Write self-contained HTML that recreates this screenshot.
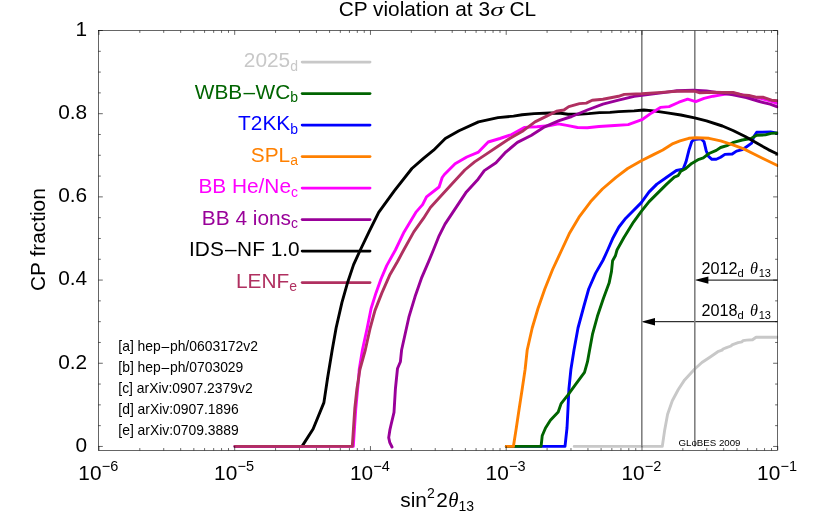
<!DOCTYPE html>
<html><head><meta charset="utf-8"><title>CP violation at 3 sigma CL</title><style>
html,body{margin:0;padding:0;background:#fff;}
svg{display:block;font-family:"Liberation Sans",sans-serif;}
svg{will-change:transform;}
</style></head><body>
<svg width="830" height="513" viewBox="0 0 830 513">
<rect width="830" height="513" fill="#fff"/>
<path d="M302.2 62.1H370" stroke="#c8c8c8" stroke-width="2.9" stroke-linecap="round" fill="none"/>
<path d="M302.2 93.6H370" stroke="#006400" stroke-width="2.9" stroke-linecap="round" fill="none"/>
<path d="M302.2 125.1H370" stroke="#0000ff" stroke-width="2.9" stroke-linecap="round" fill="none"/>
<path d="M302.2 156.6H370" stroke="#ff8000" stroke-width="2.9" stroke-linecap="round" fill="none"/>
<path d="M302.2 188.1H370" stroke="#ff00ff" stroke-width="2.9" stroke-linecap="round" fill="none"/>
<path d="M302.2 219.6H370" stroke="#990099" stroke-width="2.9" stroke-linecap="round" fill="none"/>
<path d="M302.2 251.1H370" stroke="#000000" stroke-width="2.9" stroke-linecap="round" fill="none"/>
<path d="M302.2 282.6H370" stroke="#b03060" stroke-width="2.9" stroke-linecap="round" fill="none"/>
<path d="M777.4 280.1H700.6" stroke="#000" stroke-width="1" fill="none"/>
<path d="M694.6 280.1l13.8 -3.7v7.4z" fill="#000"/>
<path d="M777.4 321.7H647.2" stroke="#000" stroke-width="1" fill="none"/>
<path d="M641.2 321.7l13.8 -3.7v7.4z" fill="#000"/>
<clipPath id="cp"><rect x="98.95" y="30.5" width="679.17" height="419.95"/></clipPath>
<g clip-path="url(#cp)">
<g fill="none" stroke-width="2.9" stroke-linejoin="round" stroke-linecap="round">
<path d="M574.2 446.4L662.3 446.4L664.6 430.6L667.6 414.2L672.3 400.8L678.3 389.5L684.6 379.9L694.7 369.0L701.9 362.5L710.6 356.7L717.8 351.7L722.0 350.2L723.0 349.0L726.5 347.6L731.0 346.0L732.0 344.9L738.1 342.6L742.0 341.8L743.0 340.6L746.7 340.1L752.5 339.8L756.1 337.2L777.4 337.2" stroke="#c8c8c8"/>
</g>
<path d="M641.8 30.5V446.4M694.8 30.5V446.4" stroke="#808080" stroke-width="1.6" fill="none"/>
<g fill="none" stroke-width="2.9" stroke-linejoin="round" stroke-linecap="round">
<path d="M506.3 446.4L565.0 446.4L567.0 428.0L568.0 408.5L568.9 389.0L570.9 369.5L574.0 350.0L578.0 328.0L583.8 306.5L588.7 289.0L595.5 273.4L603.3 259.7L607.7 250.0L613.1 237.7L618.9 227.0L625.8 218.2L633.5 210.4L641.3 202.6L649.1 191.9L656.9 184.1L666.7 177.3L676.4 170.5L683.2 169.1L686.0 161.8L688.9 150.3L691.7 141.7L693.9 139.5L701.1 138.8L704.0 141.7L706.1 150.4L708.3 156.1L711.9 159.3L716.3 159.3L720.6 157.3L724.9 154.4L732.2 154.0L736.5 151.1L742.3 149.6L746.6 146.7L751.7 143.1L753.9 136.6L756.7 132.3L770.5 131.9L774.5 132.6L777.4 133.4" stroke="#0000ff"/>
<path d="M506.3 446.4L541.1 446.4L542.2 435.8L545.5 428.0L550.4 420.2L558.2 412.0L561.1 403.6L568.0 394.8L575.8 384.1L584.5 372.4L587.5 361.7L589.6 350.0L592.6 333.8L597.4 316.3L603.3 298.7L609.1 283.1L611.5 271.4L612.6 260.7L615.4 255.8L617.0 250.0L623.8 237.7L633.5 222.1L641.3 211.4L649.1 201.6L658.9 191.9L666.7 184.1L674.3 177.1L678.0 175.7L680.8 171.3L685.9 168.4L691.7 163.4L698.9 159.3L703.3 157.9L709.0 153.5L716.3 150.4L720.6 147.5L727.8 145.3L733.6 142.4L742.3 140.0L751.0 138.5L756.7 135.2L765.4 134.9L771.2 133.4L777.4 133.0" stroke="#006400"/>
<path d="M506.3 446.4L513.4 446.4L516.3 428.0L519.2 408.5L522.2 389.0L525.1 369.5L527.2 350.0L532.2 328.0L538.0 308.5L544.8 289.0L552.6 269.5L561.7 250.0L569.2 233.8L579.0 217.2L590.7 201.6L602.4 189.0L616.0 177.3L627.7 168.5L641.3 160.7L653.0 154.9L662.8 150.0L673.0 143.6L680.0 140.9L688.8 138.3L696.0 137.8L709.0 138.3L720.6 140.8L732.2 144.6L743.7 148.9L753.9 154.0L764.0 159.0L777.4 165.5" stroke="#ff8000"/>
<path d="M235.0 446.4L302.0 446.4L313.1 429.0L323.9 402.6L327.7 377.3L332.2 350.0L336.1 328.0L341.9 302.6L347.7 282.2L353.6 264.6L360.3 250.0L369.0 231.9L378.7 212.4L394.3 190.9L411.9 168.5L423.5 158.3L433.6 150.2L445.3 138.5L459.0 130.7L478.5 121.9L498.0 117.6L513.5 116.1L522.1 114.8L534.2 113.6L549.9 113.0L560.8 113.3L568.0 114.2L577.7 114.2L588.6 113.6L599.5 112.6L610.0 112.4L618.5 111.6L634.1 110.9L643.8 110.0L653.5 110.9L667.2 112.9L680.8 115.0L694.6 117.9L706.5 120.9L722.4 126.0L733.0 130.5L745.2 136.5L756.7 143.1L768.3 149.6L777.4 154.0" stroke="#000000"/>
<path d="M235.0 446.4L353.3 446.4L354.5 428.0L355.8 408.5L357.6 389.0L358.6 379.0L359.2 369.5L362.4 350.0L367.2 328.0L371.1 308.5L376.0 292.9L380.9 279.2L386.7 265.6L395.4 250.0L404.1 231.9L415.8 212.4L422.6 204.6L426.5 196.8L439.1 187.0L442.2 177.5L444.4 174.5L455.1 163.8L466.8 157.0L478.5 152.1L488.2 142.0L499.9 138.5L511.6 134.6L524.3 127.4L536.9 126.8L548.6 125.8L558.4 123.9L568.1 125.6L577.5 127.5L587.3 127.7L599.0 126.5L614.6 125.5L628.2 124.6L641.9 119.7L651.6 112.9L660.4 107.4L669.1 106.6L678.9 102.2L687.7 99.2L695.7 101.6L704.0 98.3L713.1 96.2L721.1 94.9L733.0 93.0L746.0 95.6L760.0 98.2L770.0 100.8L777.4 103.3" stroke="#ff00ff"/>
<path d="M392.0 447.0L389.7 442.3L388.7 437.6L389.3 433.7L390.0 429.3L391.0 425.0L394.0 412.4L395.4 389.0L397.5 368.5L400.4 361.7L401.6 350.0L405.2 333.8L409.1 316.3L415.0 296.8L421.8 277.3L428.6 261.7L433.4 250.0L439.1 235.8L445.0 224.1L452.8 212.4L466.4 191.9L478.1 179.2L484.3 170.6L496.0 162.8L505.8 152.1L517.4 142.4L531.1 135.5L544.7 126.8L558.4 120.9L571.7 116.5L587.3 110.0L602.9 104.1L618.5 100.2L634.1 96.3L649.7 94.4L665.2 92.4L676.9 90.8L693.3 90.2L706.5 90.9L719.8 92.9L733.0 94.9L746.3 97.5L759.5 101.5L770.1 104.2L777.4 106.8" stroke="#990099"/>
<path d="M235.0 446.4L352.3 446.4L353.5 428.0L354.8 408.5L356.9 389.0L359.9 369.5L365.3 350.0L370.2 328.0L375.0 310.4L381.9 292.9L389.6 275.3L397.4 261.7L403.7 250.0L413.8 231.9L423.6 218.2L430.4 207.5L441.1 195.8L452.8 183.1L464.8 170.0L474.6 161.9L486.3 154.1L498.0 146.3L509.7 138.5L523.3 130.7L535.0 121.9L546.7 116.1L556.4 111.2L563.9 110.0L568.8 106.6L579.5 103.6L586.3 103.1L592.2 100.2L602.9 99.2L618.5 96.3L624.3 94.4L641.9 93.8L661.3 92.4L676.9 91.2L694.6 91.2L699.9 92.9L713.1 92.2L722.4 92.5L733.0 92.5L742.3 94.9L748.9 95.5L756.9 97.3L763.5 97.3L771.5 100.2L777.4 100.8" stroke="#b03060"/>
</g>
</g>
<g stroke="#000" stroke-width="0.6" fill="none">
<rect x="98.4" y="30.5" width="679.10" height="419.95"/>
<path d="M98.95 450.45v-4.4M98.95 30.5v4.4M139.82 450.45v-2.4M139.82 30.5v2.4M163.72 450.45v-2.4M163.72 30.5v2.4M180.68 450.45v-2.4M180.68 30.5v2.4M193.84 450.45v-2.4M193.84 30.5v2.4M204.59 450.45v-2.4M204.59 30.5v2.4M213.68 450.45v-2.4M213.68 30.5v2.4M221.55 450.45v-2.4M221.55 30.5v2.4M228.49 450.45v-2.4M228.49 30.5v2.4M234.70 450.45v-4.4M234.70 30.5v4.4M275.57 450.45v-2.4M275.57 30.5v2.4M299.48 450.45v-2.4M299.48 30.5v2.4M316.44 450.45v-2.4M316.44 30.5v2.4M329.59 450.45v-2.4M329.59 30.5v2.4M340.34 450.45v-2.4M340.34 30.5v2.4M349.43 450.45v-2.4M349.43 30.5v2.4M357.30 450.45v-2.4M357.30 30.5v2.4M364.25 450.45v-2.4M364.25 30.5v2.4M370.46 450.45v-4.4M370.46 30.5v4.4M411.32 450.45v-2.4M411.32 30.5v2.4M435.23 450.45v-2.4M435.23 30.5v2.4M452.19 450.45v-2.4M452.19 30.5v2.4M465.35 450.45v-2.4M465.35 30.5v2.4M476.10 450.45v-2.4M476.10 30.5v2.4M485.18 450.45v-2.4M485.18 30.5v2.4M493.06 450.45v-2.4M493.06 30.5v2.4M500.00 450.45v-2.4M500.00 30.5v2.4M506.21 450.45v-4.4M506.21 30.5v4.4M547.08 450.45v-2.4M547.08 30.5v2.4M570.98 450.45v-2.4M570.98 30.5v2.4M587.94 450.45v-2.4M587.94 30.5v2.4M601.10 450.45v-2.4M601.10 30.5v2.4M611.85 450.45v-2.4M611.85 30.5v2.4M620.94 450.45v-2.4M620.94 30.5v2.4M628.81 450.45v-2.4M628.81 30.5v2.4M635.75 450.45v-2.4M635.75 30.5v2.4M641.97 450.45v-4.4M641.97 30.5v4.4M682.83 450.45v-2.4M682.83 30.5v2.4M706.74 450.45v-2.4M706.74 30.5v2.4M723.70 450.45v-2.4M723.70 30.5v2.4M736.85 450.45v-2.4M736.85 30.5v2.4M747.60 450.45v-2.4M747.60 30.5v2.4M756.69 450.45v-2.4M756.69 30.5v2.4M764.56 450.45v-2.4M764.56 30.5v2.4M771.51 450.45v-2.4M771.51 30.5v2.4M777.72 450.45v-4.4M777.72 30.5v4.4M98.4 446.45h4.4M777.5 446.45h-4.4M98.4 425.65h2.4M777.5 425.65h-2.4M98.4 404.86h2.4M777.5 404.86h-2.4M98.4 384.06h2.4M777.5 384.06h-2.4M98.4 363.26h4.4M777.5 363.26h-4.4M98.4 342.46h2.4M777.5 342.46h-2.4M98.4 321.66h2.4M777.5 321.66h-2.4M98.4 300.87h2.4M777.5 300.87h-2.4M98.4 280.07h4.4M777.5 280.07h-4.4M98.4 259.27h2.4M777.5 259.27h-2.4M98.4 238.47h2.4M777.5 238.47h-2.4M98.4 217.68h2.4M777.5 217.68h-2.4M98.4 196.88h4.4M777.5 196.88h-4.4M98.4 176.08h2.4M777.5 176.08h-2.4M98.4 155.28h2.4M777.5 155.28h-2.4M98.4 134.49h2.4M777.5 134.49h-2.4M98.4 113.69h4.4M777.5 113.69h-4.4M98.4 92.89h2.4M777.5 92.89h-2.4M98.4 72.09h2.4M777.5 72.09h-2.4M98.4 51.30h2.4M777.5 51.30h-2.4M98.4 30.50h4.4M777.5 30.50h-4.4"/>
</g>
<g font-size="20.83" fill="#000">
<text x="338.7" y="16.3">CP violation at 3</text>
<text x="490.3" y="16.3" font-family="Liberation Serif" font-style="italic" font-size="19.5" textLength="13.6" lengthAdjust="spacingAndGlyphs">σ</text>
<text x="509.4" y="16.3">CL</text>
<text x="87.2" y="35.8" text-anchor="end">1</text>
<text x="87.2" y="119.0" text-anchor="end">0.8</text>
<text x="87.2" y="202.2" text-anchor="end">0.6</text>
<text x="87.2" y="285.4" text-anchor="end">0.4</text>
<text x="87.2" y="368.6" text-anchor="end">0.2</text>
<text x="87.2" y="451.8" text-anchor="end">0</text>
<text x="78.3" y="480.0">10<tspan font-size="14.5" dy="-9" dx="0.3">−6</tspan></text>
<text x="214.1" y="480.0">10<tspan font-size="14.5" dy="-9" dx="0.3">−5</tspan></text>
<text x="349.9" y="480.0">10<tspan font-size="14.5" dy="-9" dx="0.3">−4</tspan></text>
<text x="485.6" y="480.0">10<tspan font-size="14.5" dy="-9" dx="0.3">−3</tspan></text>
<text x="621.4" y="480.0">10<tspan font-size="14.5" dy="-9" dx="0.3">−2</tspan></text>
<text x="757.1" y="480.0">10<tspan font-size="14.5" dy="-9" dx="0.3">−1</tspan></text>
<text transform="translate(45.4,239.6) rotate(-90)" text-anchor="middle">CP fraction</text>
<text x="400.3" y="507.3">sin<tspan font-size="14" dy="-9.8">2</tspan><tspan dy="9.8" dx="1.5">2</tspan><tspan font-family="Liberation Serif" font-style="italic" dx="0.5">θ</tspan><tspan font-size="14" dy="3.5">13</tspan></text>
<text x="298.0" y="67.3" text-anchor="end" fill="#c8c8c8">2025<tspan font-size="14" dy="3.6">d</tspan></text>
<text x="298.0" y="98.8" text-anchor="end" fill="#006400">WBB<tspan dx="1.2">–</tspan><tspan dx="0.5">W</tspan>C<tspan font-size="14" dy="3.6">b</tspan></text>
<text x="298.0" y="130.3" text-anchor="end" fill="#0000ff">T2KK<tspan font-size="14" dy="3.6">b</tspan></text>
<text x="298.0" y="161.8" text-anchor="end" fill="#ff8000">SPL<tspan font-size="14" dy="3.6">a</tspan></text>
<text x="298.0" y="193.3" text-anchor="end" fill="#ff00ff">BB He/Ne<tspan font-size="14" dy="3.6">c</tspan></text>
<text x="298.0" y="224.8" text-anchor="end" fill="#990099">BB 4 ions<tspan font-size="14" dy="3.6">c</tspan></text>
<text x="299.6" y="256.3" text-anchor="end" fill="#000000">IDS<tspan dx="1.2">–</tspan><tspan dx="0.5">N</tspan>F 1.0</text>
<text x="297.0" y="287.8" text-anchor="end" fill="#b03060">LENF<tspan font-size="14" dy="3.6">e</tspan></text>
</g>
<g font-size="13.9" fill="#000">
<text x="118.3" y="351.3">[a] hep<tspan dx="0.7">–</tspan><tspan dx="0.7">p</tspan>h/0603172v2</text>
<text x="118.3" y="372.1">[b] hep<tspan dx="0.7">–</tspan><tspan dx="0.7">p</tspan>h/0703029</text>
<text x="118.3" y="392.9">[c] arXiv:0907.2379v2</text>
<text x="118.3" y="413.7">[d] arXiv:0907.1896</text>
<text x="118.3" y="434.5">[e] arXiv:0709.3889</text>
</g>
<text x="678.5" y="445.5" font-size="9.7" fill="#000">GLoBES 2009</text>
<text x="701.4" y="274.4" font-size="16.2" fill="#000">2012<tspan font-size="11.2" dy="2.8">d</tspan><tspan dy="-2.8" dx="6.3" font-family="Liberation Serif" font-style="italic">θ</tspan><tspan font-size="11" dy="2.8" dx="0.8">13</tspan></text>
<text x="701.4" y="316.0" font-size="16.2" fill="#000">2018<tspan font-size="11.2" dy="2.8">d</tspan><tspan dy="-2.8" dx="6.3" font-family="Liberation Serif" font-style="italic">θ</tspan><tspan font-size="11" dy="2.8" dx="0.8">13</tspan></text>
</svg></body></html>
